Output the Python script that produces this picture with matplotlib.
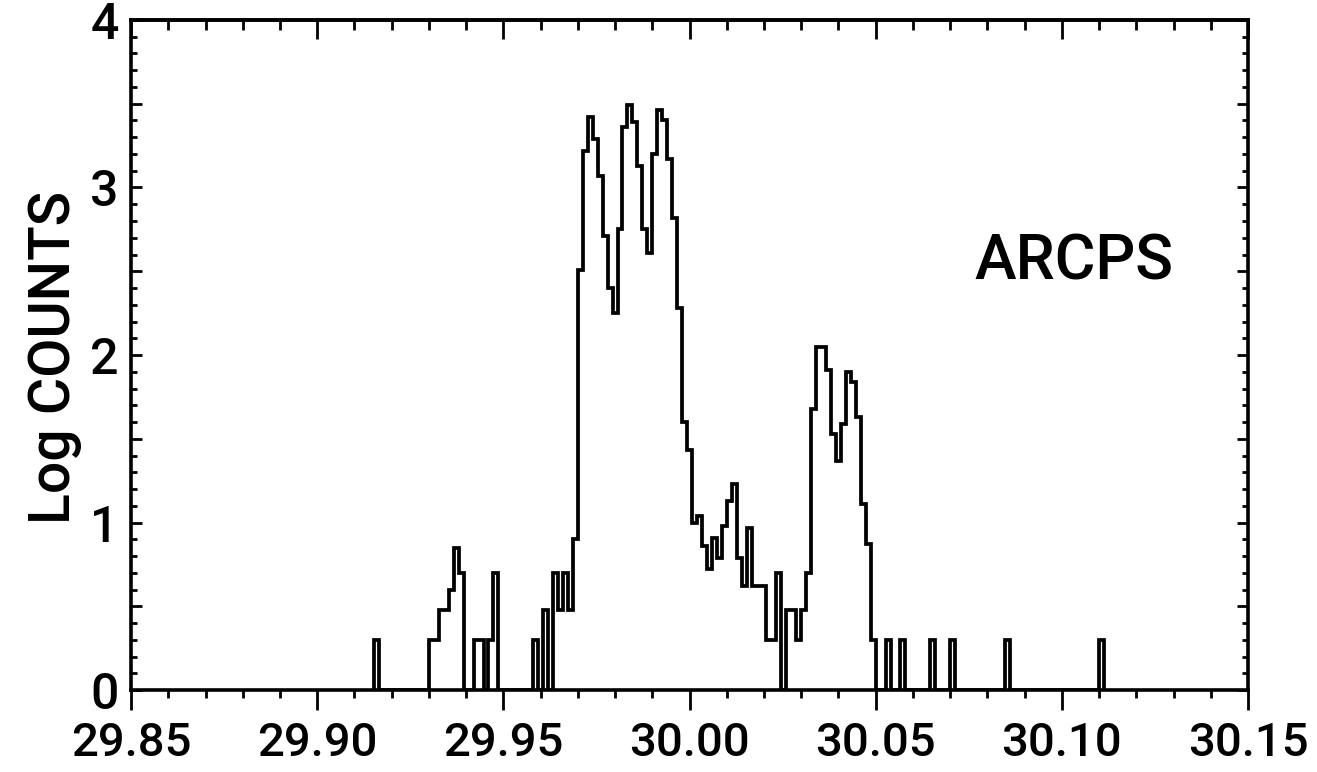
"""
Log counts histogram (ARCPS) - step plot over 29.85 .. 30.15
"""

import numpy as np
import matplotlib.pyplot as plt
from matplotlib.ticker import MultipleLocator, FuncFormatter

plt.rcParams['font.family'] = ['Roboto', 'DejaVu Sans']
plt.rcParams['font.weight'] = 'medium'

# channel grid: 225 equal bins between 29.85 and 30.15
x_start = 29.85
x_stop = 30.15
n_bins = 225

# log10(counts) for bins 49 ... 195, every other bin is empty
first_bin = 49
log_counts = [
    0.30, 0, 0, 0, 0, 0, 0, 0, 0, 0,                          # 49-58
    0, 0.30, 0.30, 0.48, 0.48, 0.60, 0.85, 0.70, 0, 0,        # 59-68
    0.30, 0.30, 0, 0.30, 0.70, 0, 0, 0, 0, 0,                 # 69-78
    0, 0, 0.30, 0, 0.48, 0, 0.70, 0.48, 0.70, 0.48,           # 79-88
    0.90, 2.51, 3.22, 3.42, 3.29, 3.07, 2.71, 2.40, 2.25, 2.75,  # 89-98
    3.36, 3.49, 3.39, 3.13, 2.75, 2.61, 3.20, 3.46, 3.40, 3.17,  # 99-108
    2.82, 2.28, 1.60, 1.43, 1.00, 1.04, 0.86, 0.72, 0.91, 0.79,  # 109-118
    0.98, 1.13, 1.23, 0.79, 0.62, 0.97, 0.62, 0.62, 0.62, 0.30,  # 119-128
    0.30, 0.70, 0, 0.48, 0.48, 0.30, 0.48, 0.70, 1.68, 2.05,     # 129-138
    2.05, 1.91, 1.53, 1.37, 1.59, 1.90, 1.84, 1.63, 1.11, 0.87,  # 139-148
    0.30, 0, 0, 0.30, 0, 0, 0.30, 0, 0, 0,                    # 149-158
    0, 0, 0.30, 0, 0, 0, 0.30, 0, 0, 0,                       # 159-168
    0, 0, 0, 0, 0, 0, 0, 0.30, 0, 0,                          # 169-178
    0, 0, 0, 0, 0, 0, 0, 0, 0, 0,                             # 179-188
    0, 0, 0, 0, 0, 0, 0.30,                                   # 189-195
]

x_tick_labels = ['29.85', '29.90', '29.95', '30.00', '30.05', '30.10', '30.15']
y_tick_labels = ['0', '1', '2', '3', '4']

all_edges = np.linspace(x_start, x_stop, n_bins + 1)
edges = all_edges[first_bin:first_bin + len(log_counts) + 1]

fig = plt.figure(figsize=(13.17, 7.72), dpi=100)
ax = fig.add_axes([0.0995, 0.1062, 0.8481, 0.8679])

ax.stairs(log_counts, edges, baseline=0, color='black', linewidth=2.7)

ax.set_xlim(x_start, x_stop)
ax.set_ylim(0, 4)

for side in ax.spines.values():
    side.set_linewidth(2.6)

# bottom ticks point outwards, the rest point inwards
ax.xaxis.set_major_locator(MultipleLocator(0.05))
ax.xaxis.set_minor_locator(MultipleLocator(0.01))
ax.set_xticks(np.linspace(x_start, x_stop, len(x_tick_labels)))
ax.set_xticklabels(x_tick_labels)
ax.tick_params(axis='x', which='major', direction='out', length=14.5, width=2,
               labelsize=34, pad=8, top=False)
ax.tick_params(axis='x', which='minor', direction='out', length=6, width=2, top=False)

top = ax.secondary_xaxis('top')
top.xaxis.set_major_locator(MultipleLocator(0.05))
top.xaxis.set_minor_locator(MultipleLocator(0.01))
top.tick_params(which='major', direction='in', length=13.5, width=2, labeltop=False)
top.tick_params(which='minor', direction='in', length=7, width=2)
top.spines['top'].set_linewidth(2.6)

ax.yaxis.set_major_locator(MultipleLocator(0.5))
ax.yaxis.set_minor_locator(MultipleLocator(0.1))
ax.yaxis.set_major_formatter(FuncFormatter(
    lambda v, pos: y_tick_labels[int(round(v))] if abs(v - round(v)) < 1e-6 else ''))
ax.tick_params(axis='y', which='major', direction='in', length=8, width=2,
               labelsize=36, pad=9, right=True)
ax.tick_params(axis='y', which='minor', direction='in', length=4.5, width=2, right=True)

fig.text(55 / 1317, 1 - 357 / 772, 'Log COUNTS', rotation=90, fontsize=41,
         ha='center', va='center')

ax.text(30.0766, 2.45, 'ARCPS', fontsize=45, ha='left', va='baseline')

fig.savefig('out.png', dpi=100)
